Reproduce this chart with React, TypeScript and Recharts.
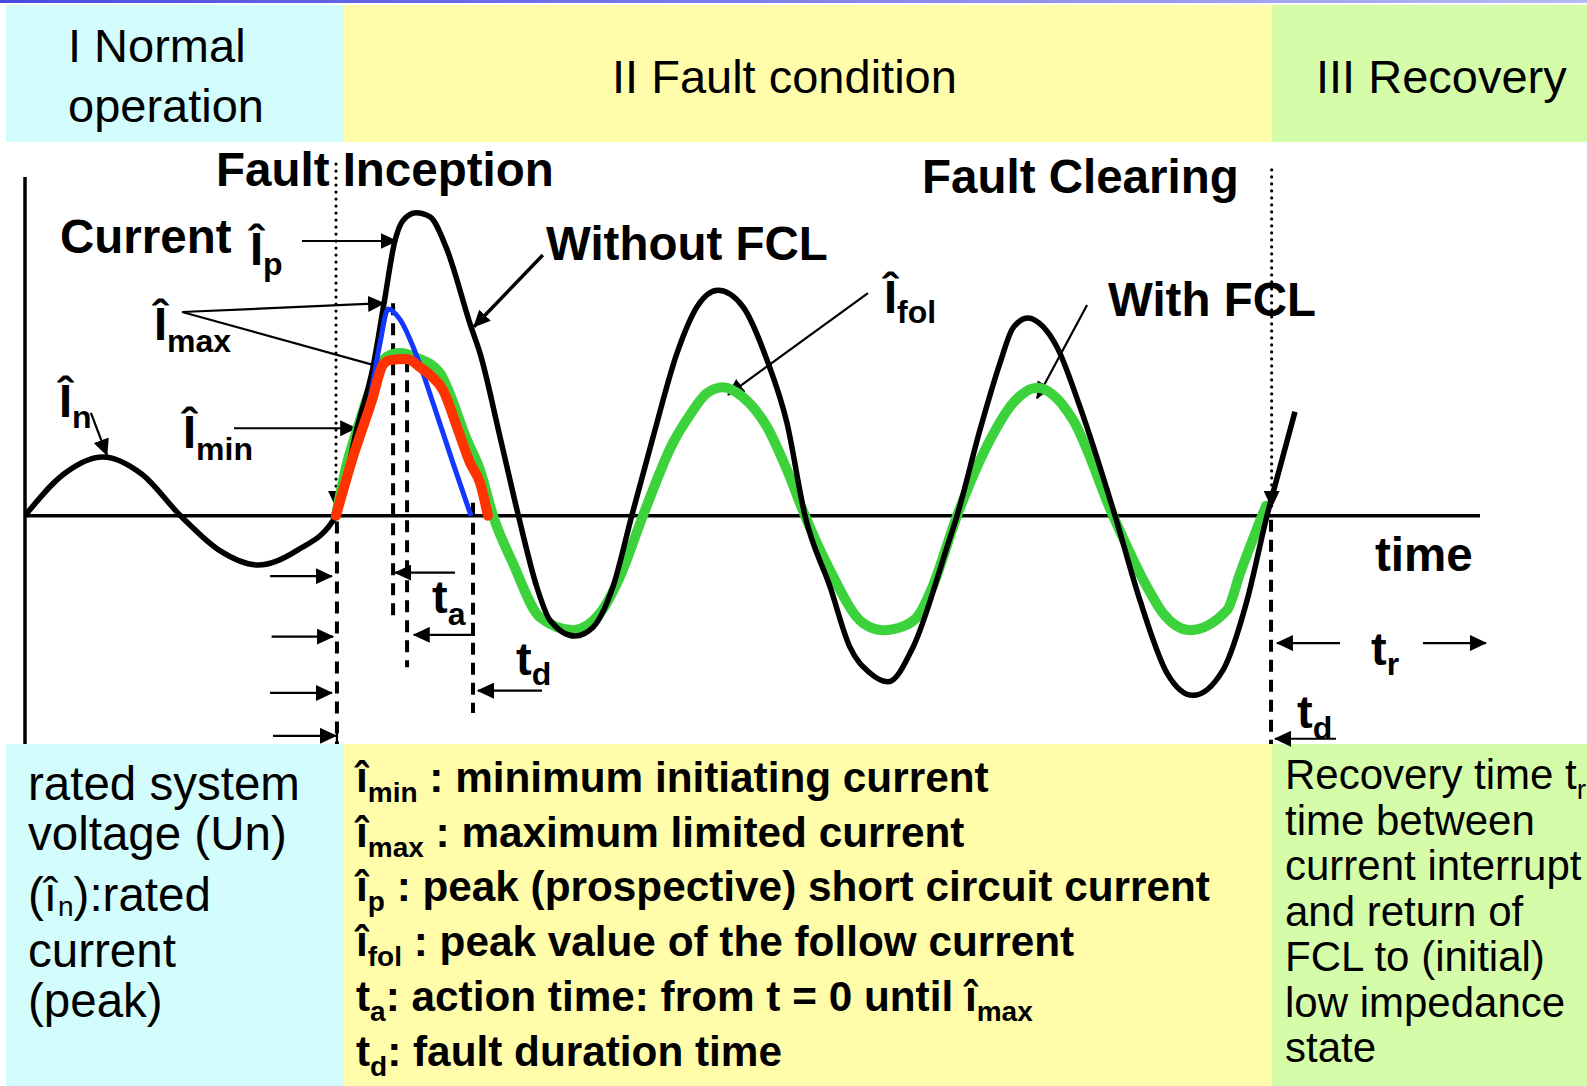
import React from "react";
import { LineChart, Line, XAxis, YAxis, ReferenceLine } from "recharts";

// time in ms (fault inception at 20 ms), current in p.u. of the rated peak
const withoutFclTime = [
  0, 2.5, 5, 7.5, 10, 12.5, 15, 17.5, 20, 21.35, 22.38, 23.09, 23.77, 24.31, 25.14, 26.05,
  27.07, 28.68, 29.26, 30.55, 31.73, 32.91, 33.76, 35.37, 36.53, 37.81, 39.02, 40.39, 41.93,
  43.22, 44.57, 46.17, 47.72, 49.0, 50.16, 51.77, 53.05, 54.34, 55.5, 57.11, 59.3, 59.94,
  61.41, 62.7, 63.54, 64.5, 65.47, 66.37, 67.85, 70.1, 71.7, 73.44, 75.11, 77.04, 78.59,
  79.87, 80.71, 81.67,
];
const withoutFclCurrent = [
  0, 0.71, 1.0, 0.71, 0, -0.59, -0.84, -0.59, 0, 1.49, 2.53, 3.62, 4.66, 5.03, 5.16, 5.09,
  4.58, 3.22, 2.77, 1.34, 0, -1.21, -1.78, -2.05, -1.9, -1.21, 0, 1.34, 2.77,
  3.56, 3.84, 3.56, 2.65, 1.58, 0, -1.21, -2.24, -2.68, -2.83, -2.24, -0.53, 0,
  1.46, 2.6, 3.2, 3.37, 3.22, 2.87, 1.85, 0, -1.44, -2.68, -3.06, -2.63, -1.44,
  0, 0.83, 1.77,
];

const withFclTime = [
  20, 20.71, 21.35, 22.19, 23.28, 24.12, 25.21, 26.69, 27.14, 28.42, 29.26, 30.1, 31.38,
  33.12, 35.24, 36.98, 38.26, 39.74, 41.67, 42.77, 43.86, 44.89, 46.17, 47.72, 49.0, 50.16,
  51.77, 53.89, 55.18, 56.5, 57.5, 58.3, 59.94, 62.06, 63.54, 65.08, 66.11, 67.4, 69.97,
  72.15, 73.18, 74.92, 77.3, 78.14, 79.81,
];
const withFclCurrent = [
  0, 0.9, 1.46, 2.14, 2.71, 2.77, 2.69, 2.43, 2.19, 1.29, 0.78, 0, -0.81,
  -1.73, -1.95, -1.66, -1.04, 0, 1.24, 1.72, 2.09, 2.19, 2.02, 1.51, 0.78, 0,
  -0.93, -1.83, -1.95, -1.88, -1.68, -1.25, 0, 1.29, 1.92, 2.18, 2.06, 1.63, 0,
  -1.21, -1.66, -1.95, -1.61, -0.98, 0.17,
];

const limitedTime = [20, 21.09, 22.32, 23.02, 23.47, 24.57, 25.4, 26.24, 26.88, 27.78, 28.62, 29.26, 29.77];
const limitedCurrent = [0, 1.0, 1.97, 2.57, 2.65, 2.67, 2.53, 2.35, 2.14, 1.51, 0.9, 0.56, 0];

const maxLimitedTime = [19.94, 21.09, 22.19, 22.83, 23.35, 24.12, 25.21, 26.24, 27.52, 28.68];
const maxLimitedCurrent = [0, 1.0, 2.02, 2.94, 3.52, 3.34, 2.71, 1.92, 0.9, 0];

// annotation segments [t1, i1, t2, i2]
type Seg = [number, number, number, number];
const axisSegs: Seg[] = [
  [0, 0, 93.57, 0],
  [0, 5.77, 0, -3.89],
];
const arrowSegs: Seg[] = [
  [4.24, 1.75, 5.27, 1.03],
  [17.81, 4.68, 23.9, 4.68],
  [10.1, 3.47, 23.09, 3.62],
  [13.44, 1.49, 21.3, 1.49],
  [54.21, 3.79, 45.21, 2.06],
  [68.3, 3.59, 65.08, 2.0],
  [15.76, -1.03, 19.74, -1.03],
  [15.86, -2.06, 19.81, -2.06],
  [15.76, -3.02, 19.74, -3.02],
  [15.95, -3.75, 20.0, -3.75],
  [27.65, -0.97, 23.8, -0.97],
  [28.94, -2.03, 25.0, -2.03],
  [33.25, -2.98, 29.13, -2.98],
  [84.57, -2.17, 80.51, -2.17],
  [89.9, -2.17, 93.95, -2.17],
  [84.31, -3.8, 80.39, -3.8],
];
const wideArrowSegs: Seg[] = [[33.3, 4.44, 28.87, 3.22]];
const plainSegs: Seg[] = [
  [10.1, 3.47, 22.38, 2.57],
  [20.06, -3.6, 20.06, -3.89],
];
const dottedSegs: Seg[] = [
  [20.0, 5.99, 20.0, 0.15],
  [80.17, 5.89, 80.17, 0.15],
];
const dashedSegs: Seg[] = [
  [20.06, -0.1, 20.06, -3.89],
  [23.67, 3.62, 23.67, -1.78],
  [24.57, 2.65, 24.57, -2.58],
  [28.81, 0.22, 28.81, -3.36],
  [80.13, -0.07, 80.13, -3.89],
];

const zip = (ts: number[], vs: number[]) => ts.map((t, k) => ({ t, i: vs[k] }));

const FONT = '"Liberation Sans", Arial, Helvetica, sans-serif';
const CYAN = "#D3FCFC";
const YELLOW = "#FFFCAA";
const GREEN = "#D5FCA9";

function Txt({ x, y, size, bold, children }: any) {
  return (
    <div
      style={{
        position: "absolute",
        left: x,
        top: y - 0.8465 * size,
        fontSize: size,
        fontWeight: bold ? 700 : 400,
        lineHeight: 1,
        whiteSpace: "nowrap",
        fontFamily: FONT,
        color: "#000",
      }}
    >
      {children}
    </div>
  );
}

function Sub({ size, shift, gap, children }: any) {
  return (
    <span
      style={{
        fontSize: size,
        position: "relative",
        top: shift,
        display: "inline-block",
        lineHeight: 0.8,
        marginLeft: gap || 0,
      }}
    >
      {children}
    </span>
  );
}

function Box({ x, y, w, h, c }: any) {
  return <div style={{ position: "absolute", left: x, top: y, width: w, height: h, background: c }} />;
}

function renderSeg(key: string, s: Seg, w: number, dash?: string, cap?: string, arrow?: boolean) {
  return (
    <ReferenceLine
      key={key}
      segment={[{ x: s[0], y: s[1] }, { x: s[2], y: s[3] }]}
      ifOverflow="visible"
      shape={(p: any) => (
        <line
          x1={p.x1}
          y1={p.y1}
          x2={p.x2}
          y2={p.y2}
          stroke="#000"
          strokeWidth={w}
          strokeDasharray={dash}
          strokeLinecap={cap as any}
          markerEnd={arrow ? "url(#ah)" : undefined}
        />
      )}
    />
  );
}

export default function App() {
  return (
    <div
      style={{
        position: "relative",
        width: 1587,
        height: 1086,
        overflow: "hidden",
        background: "#fff",
        fontFamily: FONT,
      }}
    >
      <style>{`body{margin:0}`}</style>
      <svg width={0} height={0} style={{ position: "absolute" }}>
        <defs>
          <marker
            id="ah"
            viewBox="0 0 17 16"
            refX={16}
            refY={8}
            markerWidth={17}
            markerHeight={16}
            markerUnits="userSpaceOnUse"
            orient="auto"
          >
            <path d="M0,0 L17,8 L0,16 z" fill="#000" />
          </marker>
        </defs>
      </svg>

      <div
        style={{
          position: "absolute",
          left: 0,
          top: 0,
          width: 1587,
          height: 3,
          background: "linear-gradient(to right, #4a4ae2, #b8b8f2)",
        }}
      />
      <Box x={6} y={5} w={338} h={137} c={CYAN} />
      <Box x={344} y={5} w={928} h={137} c={YELLOW} />
      <Box x={1272} y={5} w={315} h={137} c={GREEN} />
      <Box x={6} y={744} w={338} h={342} c={CYAN} />
      <Box x={344} y={744} w={928} h={342} c={YELLOW} />
      <Box x={1272} y={744} w={315} h={342} c={GREEN} />

      <div style={{ position: "absolute", left: 0, top: 0 }}>
        <LineChart width={1587} height={1086} margin={{ top: 163.5, right: 7, bottom: 335.5, left: 25 }}>
          <XAxis type="number" dataKey="t" domain={[0, 100]} hide allowDataOverflow />
          <YAxis type="number" dataKey="i" domain={[-4, 6]} hide allowDataOverflow />
          {axisSegs.map((s, k) => renderSeg("ax" + k, s, 3.5))}
          {dashedSegs.map((s, k) => renderSeg("da" + k, s, 4, "12 8"))}
          {dottedSegs.map((s, k) => renderSeg("do" + k, s, 3.2, "0 7", "round", true))}
          {plainSegs.map((s, k) => renderSeg("pl" + k, s, 2.2))}
          {arrowSegs.map((s, k) => renderSeg("ar" + k, s, 2.2, undefined, undefined, true))}
          {wideArrowSegs.map((s, k) => renderSeg("wa" + k, s, 3.5, undefined, undefined, true))}
          <Line
            data={zip(withFclTime, withFclCurrent)}
            dataKey="i"
            type="monotone"
            stroke="#3CD23C"
            strokeWidth={10}
            strokeLinecap="round"
            strokeLinejoin="round"
            dot={false}
            activeDot={false}
            isAnimationActive={false}
          />
          <Line
            data={zip(withoutFclTime, withoutFclCurrent)}
            dataKey="i"
            type="monotone"
            stroke="#000"
            strokeWidth={5.5}
            strokeLinejoin="round"
            dot={false}
            activeDot={false}
            isAnimationActive={false}
          />
          <Line
            data={zip(maxLimitedTime, maxLimitedCurrent)}
            dataKey="i"
            type="monotone"
            stroke="#1238FF"
            strokeWidth={5}
            strokeLinejoin="round"
            dot={false}
            activeDot={false}
            isAnimationActive={false}
          />
          <Line
            data={zip(limitedTime, limitedCurrent)}
            dataKey="i"
            type="monotone"
            stroke="#FF3300"
            strokeWidth={10}
            strokeLinecap="round"
            strokeLinejoin="round"
            dot={false}
            activeDot={false}
            isAnimationActive={false}
          />
        </LineChart>
      </div>

      {/* phase headers */}
      <Txt x={68} y={62} size={47}>I Normal</Txt>
      <Txt x={68} y={122} size={47}>operation</Txt>
      <Txt x={612} y={93} size={47}>II Fault condition</Txt>
      <Txt x={1316} y={93} size={47}>III Recovery</Txt>

      {/* chart labels */}
      <Txt x={216} y={186} size={47.5} bold>Fault Inception</Txt>
      <Txt x={922} y={193} size={47.5} bold>Fault Clearing</Txt>
      <Txt x={60} y={253} size={47.5} bold>Current</Txt>
      <Txt x={250} y={265} size={47} bold>
        Î<Sub size={32} shift={10}>p</Sub>
      </Txt>
      <Txt x={154} y={340} size={47} bold>
        Î<Sub size={32} shift={12}>max</Sub>
      </Txt>
      <Txt x={59} y={417} size={47} bold>
        Î<Sub size={32} shift={11}>n</Sub>
      </Txt>
      <Txt x={183} y={448} size={47} bold>
        Î<Sub size={32} shift={12}>min</Sub>
      </Txt>
      <Txt x={546} y={260} size={47.5} bold>Without FCL</Txt>
      <Txt x={884} y={313} size={47} bold>
        Î<Sub size={32} shift={10}>fol</Sub>
      </Txt>
      <Txt x={1108} y={316} size={47.5} bold>With FCL</Txt>
      <Txt x={1375} y={571} size={47.5} bold>time</Txt>
      <Txt x={432} y={613} size={47} bold>
        t<Sub size={32} shift={12}>a</Sub>
      </Txt>
      <Txt x={516} y={675} size={47} bold>
        t<Sub size={32} shift={10}>d</Sub>
      </Txt>
      <Txt x={1371} y={665} size={47} bold>
        t<Sub size={32} shift={10}>r</Sub>
      </Txt>
      <Txt x={1297} y={728} size={47} bold>
        t<Sub size={32} shift={11}>d</Sub>
      </Txt>

      {/* bottom left */}
      <Txt x={28} y={800} size={47.5}>rated system</Txt>
      <Txt x={28} y={850} size={47.5}>voltage (Un)</Txt>
      <Txt x={28} y={911} size={47.5}>
        (î<Sub size={28} shift={5} gap={1}>n</Sub>):rated
      </Txt>
      <Txt x={28} y={967} size={47.5}>current</Txt>
      <Txt x={28} y={1017} size={47.5}>(peak)</Txt>

      {/* bottom middle */}
      <Txt x={356} y={793} size={42.3} bold>
        î<Sub size={28} shift={10}>min</Sub> : minimum initiating current
      </Txt>
      <Txt x={356} y={848} size={42.3} bold>
        î<Sub size={28} shift={10}>max</Sub> : maximum limited current
      </Txt>
      <Txt x={356} y={902} size={42.3} bold>
        î<Sub size={28} shift={10}>p</Sub> : peak (prospective) short circuit current
      </Txt>
      <Txt x={356} y={957} size={42.3} bold>
        î<Sub size={28} shift={10}>fol</Sub> : peak value of the follow current
      </Txt>
      <Txt x={356} y={1012} size={42.3} bold>
        t<Sub size={28} shift={10}>a</Sub>: action time: from t = 0 until î<Sub size={28} shift={10}>max</Sub>
      </Txt>
      <Txt x={356} y={1067} size={42.3} bold>
        t<Sub size={28} shift={10}>d</Sub>: fault duration time
      </Txt>

      {/* bottom right */}
      <Txt x={1285} y={790} size={42}>
        Recovery time t<Sub size={28} shift={10}>r</Sub>
      </Txt>
      <Txt x={1285} y={836} size={42}>time between</Txt>
      <Txt x={1285} y={881} size={42}>current interrupt</Txt>
      <Txt x={1285} y={927} size={42}>and return of</Txt>
      <Txt x={1285} y={972} size={42}>FCL to (initial)</Txt>
      <Txt x={1285} y={1018} size={42}>low impedance</Txt>
      <Txt x={1285} y={1063} size={42}>state</Txt>
    </div>
  );
}
